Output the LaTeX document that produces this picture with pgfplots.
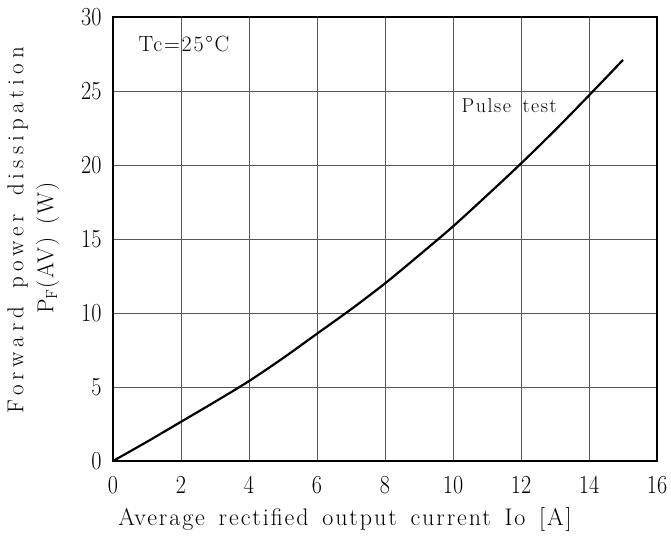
\documentclass[border=0pt]{standalone}
\usepackage{fontspec}
\usepackage{pgfplots}
\pgfplotsset{compat=1.18}
\newfontfamily\spaced[LetterSpace=8,WordSpace=1.5]{Latin Modern Roman}
\newfontfamily\yspaced[LetterSpace=22,WordSpace=1.5]{Latin Modern Roman}
\newfontfamily\tickfont[FakeStretch=0.85]{Latin Modern Roman}
\begin{document}
\begin{tikzpicture}
\begin{axis}[
  scale only axis,
  width=544pt, height=444pt,
  xmin=0, xmax=16, ymin=0, ymax=30,
  xtick={0,2,...,16}, ytick={0,5,...,30},
  grid=major,
  major grid style={black!65, line width=0.8pt},
  axis line style={line width=2.2pt},
  tick style={draw=none},
  ticklabel style={font=\tickfont\fontsize{26}{30}\selectfont},
  /pgf/number format/assume math mode=true,
  xticklabel style={yshift=-12pt},
  yticklabel style={xshift=-8pt},
  xlabel={\spaced\fontsize{24}{28}\selectfont Average rectified output current Io [A]},
  ylabel={\fontsize{23}{30}\selectfont\begin{tabular}{c}{\yspaced Forward power dissipation}\\ {\spaced P\textsubscript{F}(AV) (W)\hspace*{36pt}}\end{tabular}},
  xlabel style={yshift=-7pt, xshift=-40pt},
  ylabel style={yshift=12pt, xshift=9pt},
]
\addplot[black, line width=2.2pt, smooth] coordinates {
(0,0) (1,1.3) (2,2.65) (3,4.0) (4,5.4) (5,6.95) (6,8.6) (7,10.25) (8,12.0) (9,13.9) (10,15.85) (11,17.95) (12,20.1) (13,22.35) (14,24.7) (15,27.1)
};
\node[font=\spaced\fontsize{22}{26}\selectfont, anchor=west] at (axis cs:0.65,28.2) {Tc=25°C};
\node[font=\spaced\fontsize{20}{24}\selectfont, anchor=west] at (axis cs:10.15,24.0) {Pulse test};
\end{axis}
\pgfresetboundingbox
\path (current axis.south west) ++(-113pt,-74pt) coordinate (bl);
\path (current axis.north east) ++(14pt,17pt) coordinate (tr);
\path[use as bounding box] (bl) rectangle (tr);
\end{tikzpicture}
\end{document}
